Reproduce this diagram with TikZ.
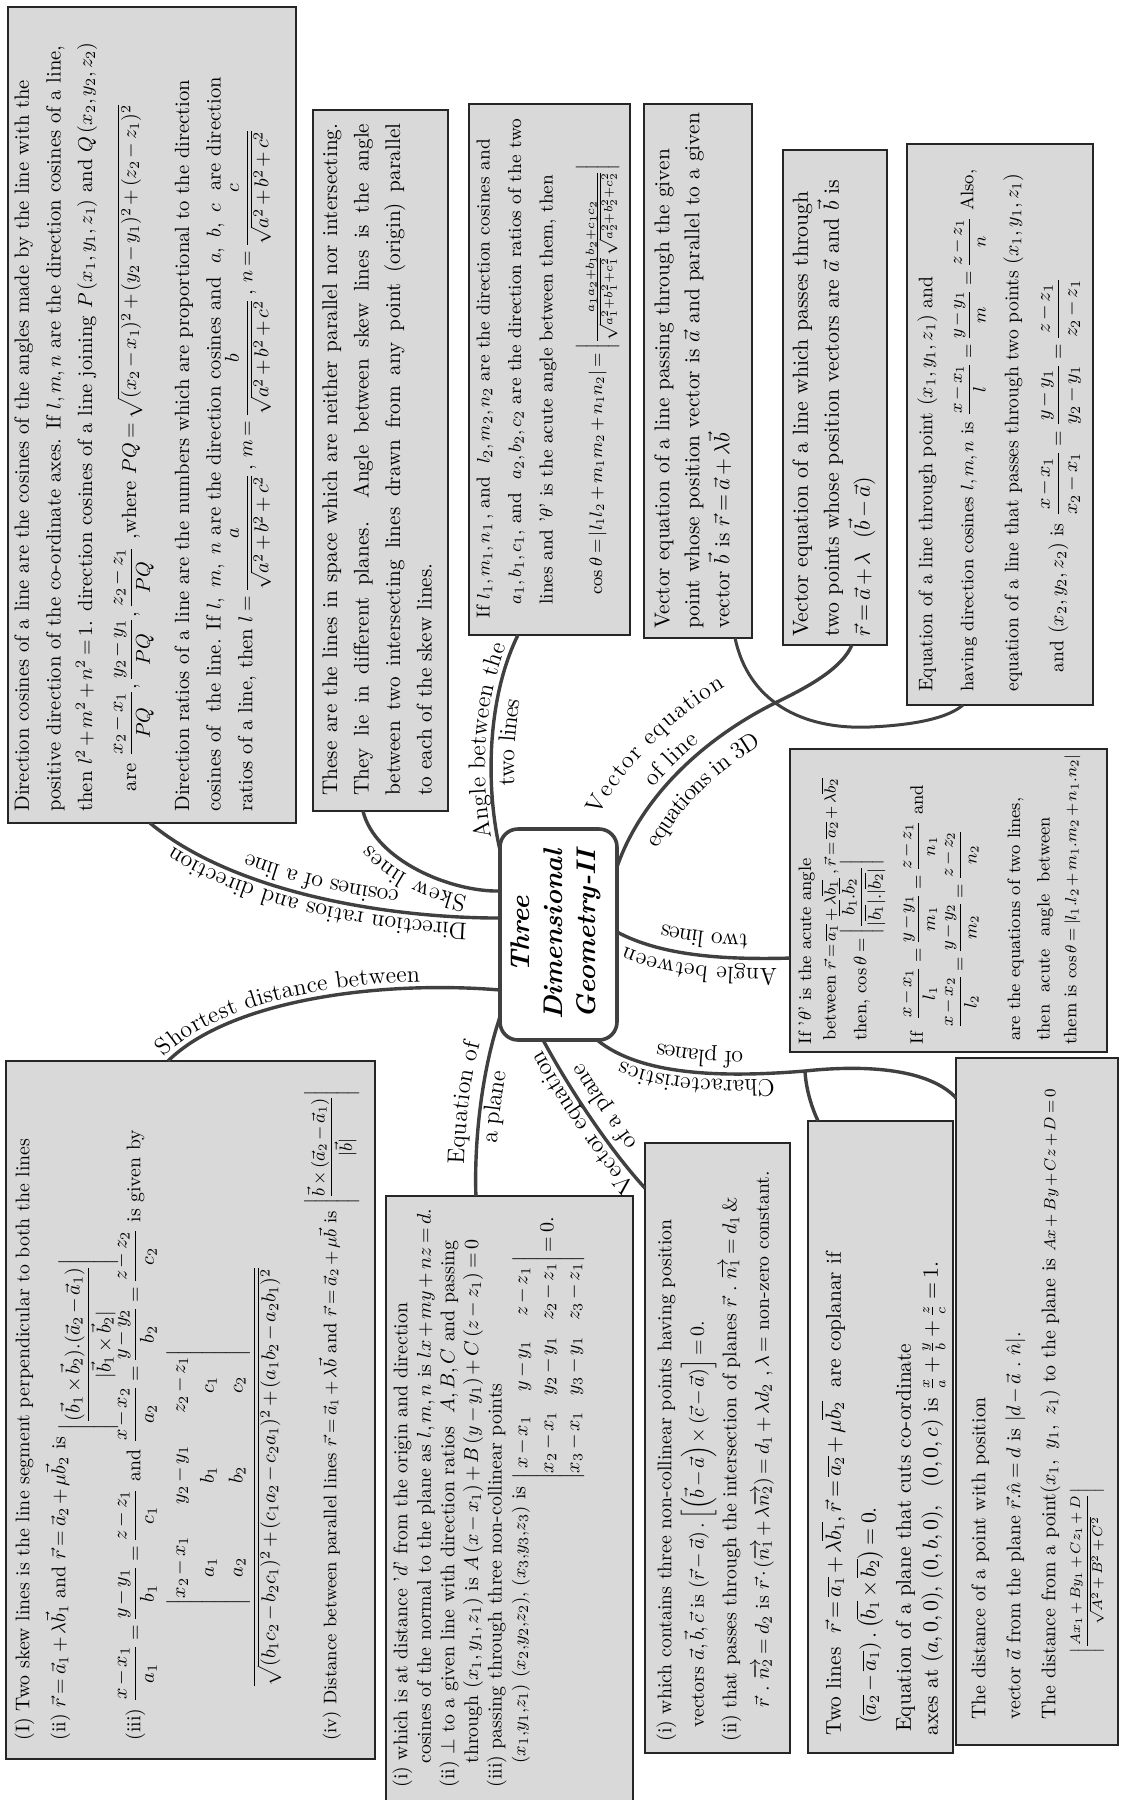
\documentclass[tikz,border=0pt]{standalone}
\usepackage{amsmath,amssymb}
\usetikzlibrary{calc,fit,decorations.text}

\definecolor{panelfill}{HTML}{D9D9D9}
\definecolor{branchgray}{HTML}{404040}
\newcommand{\lblfont}{\fontsize{12}{14}\selectfont}
% fixed line pitch inside the panels, and tighter math spacing
\newcommand{\fixedlines}{\lineskiplimit=-\maxdimen\lineskip=0pt\medmuskip=2.5mu plus 1mu minus 2mu\thickmuskip=3.5mu plus 2mu\relax}
% determinant with normal row stacking: [row stretch][column sep]
\newcommand{\detm}[3][1]{{\lineskiplimit=0pt\arraycolsep=#2\renewcommand{\arraystretch}{#1}\begin{vmatrix}#3\end{vmatrix}}}

\begin{document}
\begin{tikzpicture}[x=0.5pt, y=-0.5pt,
  panel/.style={draw=black!85, line width=0.8pt, fill=panelfill, inner sep=0pt, outer sep=0pt},
  paneltext/.style={rotate=90, anchor=north west, inner sep=0pt, align=left},
  hubbox/.style={draw=branchgray, line width=1.8pt, rounded corners=9pt, fill=white, inner sep=0pt, outer sep=0pt},
  branch/.style={draw=branchgray, line width=1.7pt},
  subbranch/.style={draw=branchgray, line width=1.5pt},
  branchlabel/.style={decorate, decoration={text along path, text={|\lblfont|#1}, text align=center}},
]
\useasboundingbox (0,0) rectangle (1121,1800);
\fill[white] (0,0) rectangle (1121,1800);

% ---------- panels ----------
\node[panel, fit={(8,7) (296,823)}] (b1) {};
\node[panel, fit={(313,110) (448,811)}] (b2) {};
\node[panel, fit={(469,104) (630,635)}] (b3) {};
\node[panel, fit={(644,104) (752,638)}] (b4) {};
\node[panel, fit={(783,150) (887,645)}] (b5) {};
\node[panel, fit={(907,144) (1093,705)}] (b6) {};
\node[panel, fit={(790,749) (1107,1052)}] (b7) {};
\node[panel, fit={(6,1061) (375,1759)}] (b8) {};
\node[panel, fit={(386,1196) (633,1812)}] (b9) {};
\node[panel, fit={(645,1143) (790,1753)}] (b10) {};
\node[panel, fit={(808,1121) (953,1753)}] (b11) {};
\node[panel, fit={(956,1058) (1118,1745)}] (b12) {};

% ---------- panel texts ----------
\node[paneltext, font=\fontsize{10.3}{15.8}\selectfont\fixedlines] (t1) at (14,812) {%
Direction cosines of a line are the cosines of the angles made by the line with the\\
positive direction of the co-ordinate axes. If $l, m, n$ are the direction cosines of a line,\\
then $l^2+m^2+n^2=1$. direction cosines of a line joining $P\,(x_1, y_1, z_1)$ and $Q\,(x_2, y_2, z_2)$\\[6.2pt]
\quad are $\dfrac{x_2-x_1}{PQ},\dfrac{y_2-y_1}{PQ},\dfrac{z_2-z_1}{PQ}$ ,where $PQ=\sqrt{(x_2-x_1)^2+(y_2-y_1)^2+(z_2-z_1)^2}$\\[10.7pt]
Direction ratios of a line are the numbers which are proportional to the direction\\
cosines of\ \ the line. If $l,\ m,\ n$ are the direction cosines and\ \ $a,\ b,\ c$\ \ are direction\\
ratios of a line, then $l=\dfrac{a}{\sqrt{a^2+b^2+c^2}}$\,, $m=\dfrac{b}{\sqrt{a^2+b^2+c^2}}$\,, $n=\dfrac{c}{\sqrt{a^2+b^2+c^2}}$};

\node[paneltext, font=\fontsize{10.6}{15.75}\selectfont\fixedlines] (t2) at (322,796) {%
\makebox[336pt][s]{These are the lines in space which are neither parallel nor intersecting.}\\
\makebox[336pt][s]{They lie in different planes. Angle between skew lines is the angle}\\
\makebox[336pt][s]{between two intersecting lines drawn from any point (origin) parallel}\\
to each of the skew lines.};

\node[paneltext, font=\fontsize{9.4}{15.75}\selectfont\fixedlines] (t3) at (476,619) {%
If $l_1, m_1, n_1$\,, and\ \ $l_2, m_2, n_2$ are the direction cosines and\\
\hspace*{7pt}$a_1, b_1, c_1$, and\ \ $a_2, b_2, c_2$ are the direction ratios of the two\\
\hspace*{7pt}lines and '$\theta$' is the acute angle between them, then\\[9pt]
\hspace*{12pt}{\fontsize{9}{10}\selectfont$\cos\theta=\left|l_1l_2+m_1m_2+n_1n_2\right|=\left|\frac{a_1a_2+b_1b_2+c_1c_2}{\sqrt{a_1^2+b_1^2+c_1^2}\,\sqrt{a_2^2+b_2^2+c_2^2}}\right|$}};

\node[paneltext, font=\fontsize{10.7}{15}\selectfont\fixedlines] (t4) at (654,629) {%
Vector equation of a line passing through the given\\
point whose position vector is $\vec{a}$ and parallel to a given\\
vector $\vec{b}$ is $\vec{r}=\vec{a}+\lambda\vec{b}$};

\node[paneltext, font=\fontsize{10.9}{15.5}\selectfont\fixedlines] (t5) at (792,637) {%
Vector equation of a line which passes through\\
two points whose position vectors are $\vec{a}$ and $\vec{b}$ is\\
$\vec{r}=\vec{a}+\lambda\ \ (\vec{b}-\vec{a})$};

\node[paneltext, font=\fontsize{9.8}{15.75}\selectfont\fixedlines] (t6) at (917,692) {%
Equation of a line through point $(x_1, y_1, z_1)$ and\\[4.75pt]
{\fontsize{9.1}{15.75}\selectfont having direction cosines $l, m, n$ is $\dfrac{x-x_1}{l}=\dfrac{y-y_1}{m}=\dfrac{z-z_1}{n}$ Also,}\\[6.75pt]
equation of a line that passes through two points $(x_1, y_1, z_1)$\\[6.75pt]
\quad and $(x_2, y_2, z_2)$ is $\dfrac{x-x_1}{x_2-x_1}=\dfrac{y-y_1}{y_2-y_1}=\dfrac{z-z_1}{z_2-z_1}$};

\node[paneltext, font=\fontsize{9}{12.3}\selectfont\fixedlines] (t7) at (798,1045) {%
If '$\theta$' is the acute angle\\
\hspace*{2pt}between {\fontsize{8.4}{12.3}\selectfont$\vec{r}=\overline{a_1}+\lambda\overline{b_1}\ ,\vec{r}=\overline{a_2}+\lambda\overline{b_2}$}\\[3pt]
\hspace*{2pt}then, $\cos\theta=\left|\dfrac{\overline{b_1}.\overline{b_2}}{|\overline{b_1}|.|\overline{b_2}|}\right|$\\[16pt]
If\ \ $\dfrac{x-x_1}{l_1}=\dfrac{y-y_1}{m_1}=\dfrac{z-z_1}{n_1}$ and\\[8.5pt]
\hspace*{8pt}$\dfrac{x-x_2}{l_2}=\dfrac{y-y_2}{m_2}=\dfrac{z-z_2}{n_2}$\\[15.5pt]
\hspace*{2pt}are the equations of two lines,\\[2.5pt]
\hspace*{2pt}then\ \ acute\ \ angle\ \ between\\[1pt]
them is {\fontsize{8.2}{12.3}\selectfont$\cos\theta=\left|l_1.l_2+m_1.m_2+n_1.n_2\right|$}};

\node[paneltext, font=\fontsize{9.9}{18}\selectfont\fixedlines] (t8) at (14,1741) {%
(I) Two skew lines is the line segment perpendicular to both the lines\\
(ii) $\vec{r}=\vec{a}_1+\lambda\vec{b}_1$ and $\vec{r}=\vec{a}_2+\mu\vec{b}_2$ is \raisebox{-14pt}{$\left|\dfrac{(\vec{b}_1\times\vec{b}_2).(\vec{a}_2-\vec{a}_1)}{|\vec{b}_1\times\vec{b}_2|}\right|$}\\[19.5pt]
(iii) $\dfrac{x-x_1}{a_1}=\dfrac{y-y_1}{b_1}=\dfrac{z-z_1}{c_1}$ and $\dfrac{x-x_2}{a_2}=\dfrac{y-y_2}{b_2}=\dfrac{z-z_2}{c_2}$ is given by\\[41.4pt]
\hspace*{26pt}$\dfrac{\detm[0.8]{8pt}{x_2-x_1 & y_2-y_1 & z_2-z_1\\ a_1 & b_1 & c_1\\ a_2 & b_2 & c_2}}{\sqrt{(b_1c_2-b_2c_1)^2+(c_1a_2-c_2a_1)^2+(a_1b_2-a_2b_1)^2}}$\\[20.6pt]
{\fontsize{9.1}{18}\selectfont(iv) Distance between parallel lines $\vec{r}=\vec{a}_1+\lambda\vec{b}$ and $\vec{r}=\vec{a}_2+\mu\vec{b}$ is $\left|\dfrac{\vec{b}\times(\vec{a}_2-\vec{a}_1)}{|\vec{b}|}\right|$}};

\node[paneltext, font=\fontsize{9.9}{11.8}\selectfont\fixedlines] (t9) at (392,1788) {%
(i) which is at distance '$d$' from the origin and direction\\
\hspace*{12pt}cosines of the normal to the plane as $l,m,n$ is $lx+my+nz=d$.\\
(ii) $\perp$ to a given line with direction ratios\ \ $A,B,C$ and passing\\
\hspace*{12pt}through $(x_1,y_1,z_1)$ is $A\,(x-x_1)+B\,(y-y_1)+C\,(z-z_1)=0$\\
(iii) passing through three non-collinear points\\
\hspace*{12pt}{\fontsize{9.4}{10}\selectfont$(x_1{,}y_1{,}z_1)\ (x_2{,}y_2{,}z_2){,}\ (x_3{,}y_3{,}z_3)$} is \raisebox{-14pt}{$\detm[1.1]{4pt}{x-x_1 & y-y_1 & z-z_1\\ x_2-x_1 & y_2-y_1 & z_2-z_1\\ x_3-x_1 & y_3-y_1 & z_3-z_1}=0.$}};

\node[paneltext, font=\fontsize{9.9}{16.25}\selectfont\fixedlines] (t10) at (656,1742) {%
(i) which contains three non-collinear points having position\\
\hspace*{7pt}vectors $\vec{a},\vec{b},\vec{c}$ is $\left(\vec{r}-\vec{a}\right).\left[\left(\vec{b}-\vec{a}\right)\times\left(\vec{c}-\vec{a}\right)\right]=0$.\\
(ii) that passes through the intersection of planes $\vec{r}\ .\ \overrightarrow{n_1}=d_1$\,\&\\
\hspace*{17pt}$\vec{r}\ .\ \overrightarrow{n_2}=d_2$ is $\vec{r}\cdot\left(\overrightarrow{n_1}+\lambda\overrightarrow{n_2}\right)=d_1+\lambda d_2\ ,\lambda=$ non-zero constant.};

\node[paneltext, font=\fontsize{10.7}{17.5}\selectfont\fixedlines] (t11) at (821,1736) {%
Two lines\ \ $\vec{r}=\overline{a_1}+\lambda\overline{b_1},\vec{r}=\overline{a_2}+\mu\overline{b_2}$\ \ are coplanar if\\
\hspace*{6pt}$\left(\overline{a_2}-\overline{a_1}\right).\left(\overline{b_1}\times\overline{b_2}\right)=0$.\\
\hspace*{2pt}Equation of a plane that cuts co-ordinate\\[-4pt]
axes at $(a,0,0),\,(0,b,0),\ \ (0,0,c)$ is $\frac{x}{a}+\frac{y}{b}+\frac{z}{c}=1$.};

\node[paneltext, font=\fontsize{9.9}{17.5}\selectfont\fixedlines] (t12) at (971,1720) {%
The distance of a point with position\\
vector $\vec{a}$ from the plane $\vec{r}.\hat{n}=d$ is $\left|d-\vec{a}\ .\ \hat{n}\right|$.\\
The distance from a point$\left(x_1,\ y_1,\ z_1\right)$\ to the plane is {\fontsize{8.5}{10}\selectfont$Ax+By+Cz+D=0$}\\
\hspace*{33pt}{\fontsize{7}{8}\selectfont$\left|\dfrac{Ax_1+By_1+Cz_1+D}{\sqrt{A^2+B^2+C^2}}\right|$}};

% ---------- central title ----------
\node[hubbox, fit={(500,829) (617,1040)}] (hub) {};
\node[rotate=90, align=center, inner sep=0pt, font=\bfseries\itshape\fontsize{13.5}{16.5}\selectfont] (title) at ([xshift=-1.5pt]hub.center) {Three\\Dimensional\\Geometry-II};

% ---------- branch end points ----------
\coordinate (A0) at ($(hub.north west)!0.422!(hub.south west)$);
\coordinate (A1) at ($(b1.south west)!0.493!(b1.south east)$);
\coordinate (B0) at ($(hub.north west)!0.294!(hub.south west)$);
\coordinate (B1) at ($(b2.south west)!0.37!(b2.south east)$);
\coordinate (C0) at ($(hub.north west)!0.10!(hub.south west)$);
\coordinate (C1) at ($(b3.south west)!0.304!(b3.south east)$);
\coordinate (D0) at ($(hub.north east)!0.18!(hub.south east)$);
\coordinate (D1) at ($(b5.south west)!0.663!(b5.south east)$);
\coordinate (D2) at ($(b4.south west)!0.843!(b4.south east)$);
\coordinate (D3) at ($(b6.south west)!0.301!(b6.south east)$);
\coordinate (J) at (777,702);
\coordinate (E0) at ($(b8.north west)!0.439!(b8.north east)$);
\coordinate (E1) at ($(hub.north west)!0.763!(hub.south west)$);
\coordinate (F0) at ($(b9.north west)!0.364!(b9.north east)$);
\coordinate (F1) at ($(hub.north west)!0.89!(hub.south west)$);
\coordinate (G0) at ($(b10.north west)!0.074!(b10.south west)$);
\coordinate (G1) at ($(hub.south west)!0.368!(hub.south east)$);
\coordinate (H0) at ($(hub.south west)!0.83!(hub.south east)$);
\coordinate (K) at (805,1071);
\coordinate (H1) at ($(b12.north west)!0.058!(b12.south west)$);
\coordinate (H2) at ($(b11.north west)!0.069!(b11.north east)$);
\coordinate (I0) at ($(b7.north west)!0.69!(b7.south west)$);
\coordinate (I1) at ($(hub.north east)!0.488!(hub.south east)$);

% ---------- branches ----------
\draw[branch] (A0) .. controls (380,918) and (230,890) .. (A1);
\draw[branch] (B0) .. controls (450,892) and (375,860) .. (B1);
\draw[branch] (C0) .. controls (486,790) and (486,700) .. (C1);
\draw[branch] (D0) .. controls (640,800) and (700,740) .. (J) .. controls (810,686) and (842,668) .. (D1);
\draw[subbranch] (D2) .. controls (748,700) and (800,730) .. (870,727) .. controls (915,725) and (948,718) .. (D3);
\draw[branch] (E0) .. controls (230,1000) and (380,980) .. (E1);
\draw[branch] (F0) .. controls (474,1140) and (482,1070) .. (F1);
\draw[branch] (G0) .. controls (610,1150) and (570,1090) .. (G1);
\draw[branch] (H0) .. controls (640,1075) and (720,1078) .. (K) .. controls (870,1064) and (930,1070) .. (H1);
\draw[branch] (K) .. controls (806,1090) and (812,1108) .. (H2);
\draw[branch] (I0) .. controls (720,960) and (660,955) .. (I1);

% ---------- branch labels ----------
\path[branchlabel={Direction ratios and direction}, decoration={raise=3pt}] (A0) .. controls (380,918) and (230,890) .. (A1);
\path[branchlabel={cosines of a line}, decoration={raise=-10.5pt}] (A0) .. controls (380,918) and (230,890) .. (A1);
\path[branchlabel={Skew lines}, decoration={raise=4.5pt}] (B0) .. controls (450,892) and (375,860) .. (B1);
\path[branchlabel={Angle between the}, decoration={raise=3pt}] (C0) .. controls (486,790) and (486,700) .. (C1);
\path[branchlabel={two lines}, decoration={raise=-11.5pt}] (C0) .. controls (486,790) and (486,700) .. (C1);
\path[branchlabel={Vector equation}, decoration={raise=19pt}] (D0) .. controls (640,800) and (700,740) .. (J);
\path[branchlabel={of line}, decoration={raise=4pt}] (D0) .. controls (640,800) and (700,740) .. (J);
\path[branchlabel={equations in 3D}, decoration={raise=-15pt}] (D0) .. controls (640,800) and (700,740) .. (J);
\path[branchlabel={Shortest distance between}, decoration={raise=3pt, text align=left}] (E0) .. controls (230,1000) and (380,980) .. (E1);
\path[branchlabel={Equation of}, decoration={raise=6pt}] (F0) .. controls (474,1140) and (482,1070) .. (F1);
\path[branchlabel={a plane}, decoration={raise=-10pt}] (F0) .. controls (474,1140) and (482,1070) .. (F1);
\path[branchlabel={Vector equation}, decoration={raise=3pt}] (G0) .. controls (610,1150) and (570,1090) .. (G1);
\path[branchlabel={of a plane}, decoration={raise=-11.5pt}] (G0) .. controls (610,1150) and (570,1090) .. (G1);
\path[branchlabel={Characteristics}, decoration={raise=3pt}] (K) .. controls (720,1078) and (640,1075) .. (H0);
\path[branchlabel={of planes}, decoration={raise=-11.5pt}] (K) .. controls (720,1078) and (640,1075) .. (H0);
\path[branchlabel={Angle between}, decoration={raise=5pt}] (I0) .. controls (720,960) and (660,955) .. (I1);
\path[branchlabel={two lines}, decoration={raise=-12pt}] (I0) .. controls (720,960) and (660,955) .. (I1);
\end{tikzpicture}
\end{document}
